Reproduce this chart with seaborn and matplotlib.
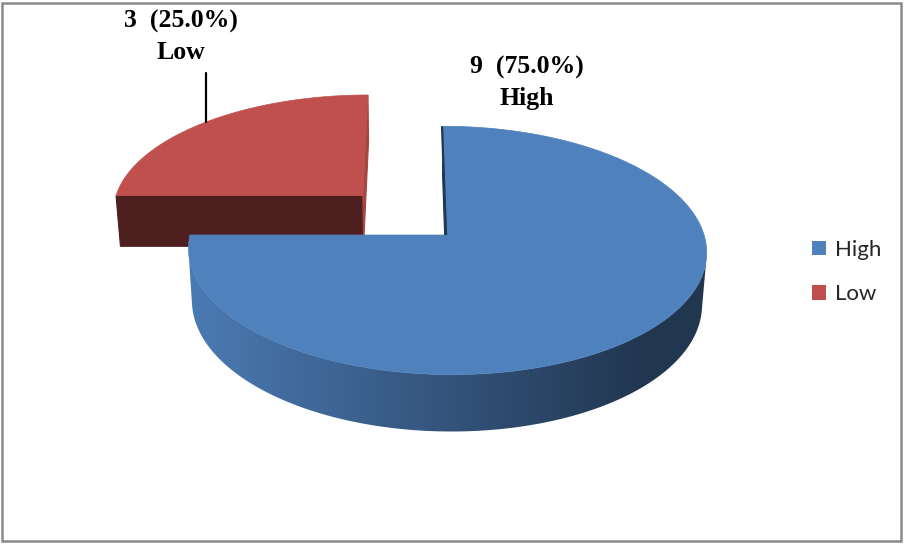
import numpy as np
import matplotlib
matplotlib.use("Agg")
import matplotlib.pyplot as plt
from matplotlib.patches import Polygon, Rectangle, Patch
import seaborn as sns

# ---- data ----
categories = ["High", "Low"]
counts = [9, 3]
explode = [0.0, 0.474]
base_colors = ["#4F81BD", "#C0504D"]

sns.set_theme(style="white")
palette = sns.color_palette(base_colors)

W, H = 905, 544
fig = plt.figure(figsize=(W / 100, H / 100), dpi=100)
ax = fig.add_axes([0, 0, 1, 1])

# ---- simple perspective camera for the 3-D pie ----
alpha = np.deg2rad(28.4)
Dcam = 7.08
Fcam = 1820.0
depth_h = 0.234
cam_x = -0.14
cx, cy = 411.0, 235.0
ca, sa = np.cos(alpha), np.sin(alpha)
cam = np.array([cam_x, -Dcam * ca, Dcam * sa])


def proj(X, Y, Z):
    X, Y, Z = np.broadcast_arrays(np.asarray(X, float), np.asarray(Y, float), np.asarray(Z, float))
    d = Dcam + Y * ca - Z * sa
    return cx + Fcam * (X - cam_x) / d, cy - Fcam * (Y * sa + Z * ca) / d


def scale(c, f):
    return tuple(min(1.0, max(0.0, v * f)) for v in c)


total = float(sum(counts))
fr = np.array(counts) / total
cum = np.concatenate([[0], np.cumsum(fr)])
starts = np.deg2rad(90 - 360 * cum[:-1])
ends = np.deg2rad(90 - 360 * cum[1:])
mids = (starts + ends) / 2
offs = [(e * np.cos(m), e * np.sin(m)) for e, m in zip(explode, mids)]

# horizontal extent of the pie for wall gradient
px_left = float(proj(-1, 0, 0)[0])
px_right = float(proj(1, 0, 0)[0])

# back wedges first
order = sorted(range(len(counts)), key=lambda i: -(offs[i][1] + np.sin(mids[i])))
for i in order:
    t0, t1 = starts[i], ends[i]
    ox, oy = offs[i]
    col = palette[i]
    t = np.linspace(t0, t1, 400)

    # outer curved wall (part facing the camera), gradient filled
    P = np.column_stack([ox + np.cos(t), oy + np.sin(t), np.zeros_like(t)])
    N = np.column_stack([np.cos(t), np.sin(t), np.zeros_like(t)])
    vis = np.einsum("ij,ij->i", N, cam - P) > 0
    if vis.sum() > 1:
        tv = t[vis]
        tx, ty = proj(ox + np.cos(tv), oy + np.sin(tv), 0)
        bx, by = proj(ox + np.cos(tv), oy + np.sin(tv), -depth_h)
        poly = np.column_stack([np.concatenate([tx, bx[::-1]]),
                                np.concatenate([ty, by[::-1]])])
        wall = Polygon(poly, closed=True, facecolor="none", edgecolor="none")
        ax.add_patch(wall)
        xs = np.linspace(px_left, px_right, 512)
        frac = (xs - px_left) / (px_right - px_left)
        fac = np.maximum(0.42, 0.95 - 0.6 * frac)
        img = np.array([[scale(col, f) for f in fac]])
        im = ax.imshow(img, extent=(px_left - 2, px_right + 2, poly[:, 1].max() + 2,
                                    poly[:, 1].min() - 2),
                       aspect="auto", interpolation="bilinear", zorder=1)
        im.set_clip_path(wall)

    # radial cut faces
    for ang, sign in ((t0, 1), (t1, -1)):
        n = np.array([-np.sin(ang), np.cos(ang), 0.0]) * sign
        Pm = np.array([ox + 0.5 * np.cos(ang), oy + 0.5 * np.sin(ang), 0.0])
        if np.dot(n, cam - Pm) <= 1e-6:
            continue
        xs_ = [ox, ox + np.cos(ang), ox + np.cos(ang), ox]
        ys_ = [oy, oy + np.sin(ang), oy + np.sin(ang), oy]
        zs_ = [0, 0, -depth_h, -depth_h]
        sx, sy = proj(xs_, ys_, zs_)
        if abs(n[1]) > abs(n[0]):
            f = 0.4
        elif n[0] > 0:
            f = 0.86
        else:
            f = 0.42
        c = scale(col, f)
        ax.add_patch(Polygon(np.column_stack([sx, sy]), closed=True,
                             facecolor=c, edgecolor=c, lw=0.8, zorder=2))

    # top face
    sx, sy = proj(np.concatenate([[ox], ox + np.cos(t)]),
                  np.concatenate([[oy], oy + np.sin(t)]), 0)
    ax.add_patch(Polygon(np.column_stack([sx, sy]), closed=True,
                         facecolor=col, edgecolor=col, lw=0.5, zorder=3))
    if explode[i] == 0:
        ex, ey = proj([ox, ox + np.cos(t0)], [oy, oy + np.sin(t0)], [0, 0])
        ax.plot(ex - 1.0, ey, color=scale(col, 0.42), lw=1.6,
                solid_capstyle="butt", zorder=3)

ax.set_xlim(0, W)
ax.set_ylim(H, 0)
ax.set_aspect("auto")
ax.axis("off")

# ---- data labels ----
label_font = dict(family=["Liberation Serif", "DejaVu Serif"], weight="bold",
                  fontsize=18.5, color="black", ha="center", va="center",
                  linespacing=1.45, zorder=5)
label_pos = {"High": (527, 83), "Low": (181, 37)}
for i, cat in enumerate(categories):
    pct = 100 * counts[i] / total
    lx, ly = label_pos[cat]
    ax.text(lx, ly, f"{counts[i]}  ({pct:.1f}%)\n{cat}", **label_font)

# leader line for the exploded slice
i_low = categories.index("Low")
ox, oy = offs[i_low]
lx_, ly_ = proj(ox + np.cos(mids[i_low]), oy + np.sin(mids[i_low]), 0)
ax.plot([float(lx_), float(lx_)], [73, float(ly_)], color="black", lw=1.6, zorder=5)

# ---- legend ----
handles = [Patch(facecolor=palette[i], edgecolor="none") for i in range(len(categories))]
leg = ax.legend(handles, categories, loc="center left",
                bbox_to_anchor=(792 / W, 1 - 272 / H), bbox_transform=fig.transFigure,
                frameon=False, handlelength=0.65, handleheight=0.65,
                handletextpad=0.4, labelspacing=1.1,
                prop={"family": ["Lato", "DejaVu Sans"], "size": 16})

# outer frame
fig.patches.append(Rectangle((2 / W, 3 / H), 899 / W, 538 / H, transform=fig.transFigure,
                             fill=False, edgecolor="#8a8a8a", lw=1.8))

fig.savefig("out.png", dpi=100)
